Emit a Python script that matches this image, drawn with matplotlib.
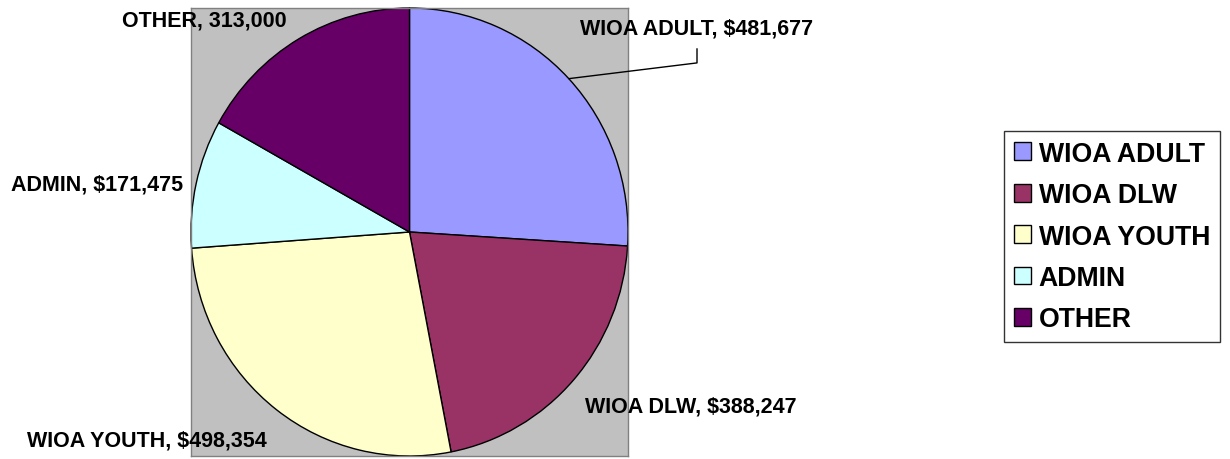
import numpy as np
import matplotlib
matplotlib.use('Agg')
import matplotlib.pyplot as plt

labels = ['WIOA ADULT', 'WIOA DLW', 'WIOA YOUTH', 'ADMIN', 'OTHER']
values = [481677, 388247, 498354, 171475, 313000]
label_texts = ['WIOA ADULT, $481,677', 'WIOA DLW, $388,247', 'WIOA YOUTH, $498,354',
               'ADMIN, $171,475', 'OTHER, 313,000']
colors = ['#9999FF', '#993366', '#FFFFCC', '#CCFFFF', '#660066']

plt.rcParams['font.family'] = ['Liberation Sans', 'DejaVu Sans']
plt.rcParams['font.weight'] = 'bold'

W, H = 1230, 460
fig = plt.figure(figsize=(W/100, H/100), dpi=100)
ax = fig.add_axes([191/W, 1-457/H, 437/W, 448/H])

wedges, _ = ax.pie(values, colors=colors, startangle=90, counterclock=False,
                   wedgeprops=dict(edgecolor='black', linewidth=1))
ax.set_aspect('auto')
ax.set_xlim(-1, 1)
ax.set_ylim(-1, 1)
ax.set_frame_on(True)
ax.set_facecolor('#C0C0C0')
for s in ax.spines.values():
    s.set_color('#808080')
    s.set_linewidth(1)

# label positions in pixels (centre x, baseline y)
pos = [(697, 35), (691, 412), (147, 447), (97, 191), (204, 27)]
for i, (t, (px, py)) in enumerate(zip(label_texts, pos)):
    if i == 0:
        w = wedges[0]
        ang = np.deg2rad((w.theta1 + w.theta2) / 2)
        ax.annotate(t, xy=(np.cos(ang), np.sin(ang)), xycoords='data',
                    xytext=(px/W, 1-py/H), textcoords='figure fraction',
                    ha='center', va='baseline', fontsize=15.5, fontweight='bold',
                    arrowprops=dict(arrowstyle='-', color='black', lw=1,
                                    shrinkA=5, shrinkB=0,
                                    connectionstyle='angle,angleA=90,angleB=7,rad=0'),
                    annotation_clip=False)
    else:
        fig.text(px/W, 1-py/H, t, ha='center', va='baseline', fontsize=15.5, fontweight='bold')

leg = fig.legend(wedges, labels, loc='upper left', bbox_to_anchor=(1004/W, 1-132/H),
                 frameon=True, fancybox=False, edgecolor='black',
                 prop=dict(weight='bold', size=19.2), handlelength=0.64, handleheight=0.64,
                 handletextpad=0.3, labelspacing=0.58, borderpad=0.36, borderaxespad=0)
leg.get_frame().set_linewidth(1)

fig.savefig('out.png', dpi=100)
